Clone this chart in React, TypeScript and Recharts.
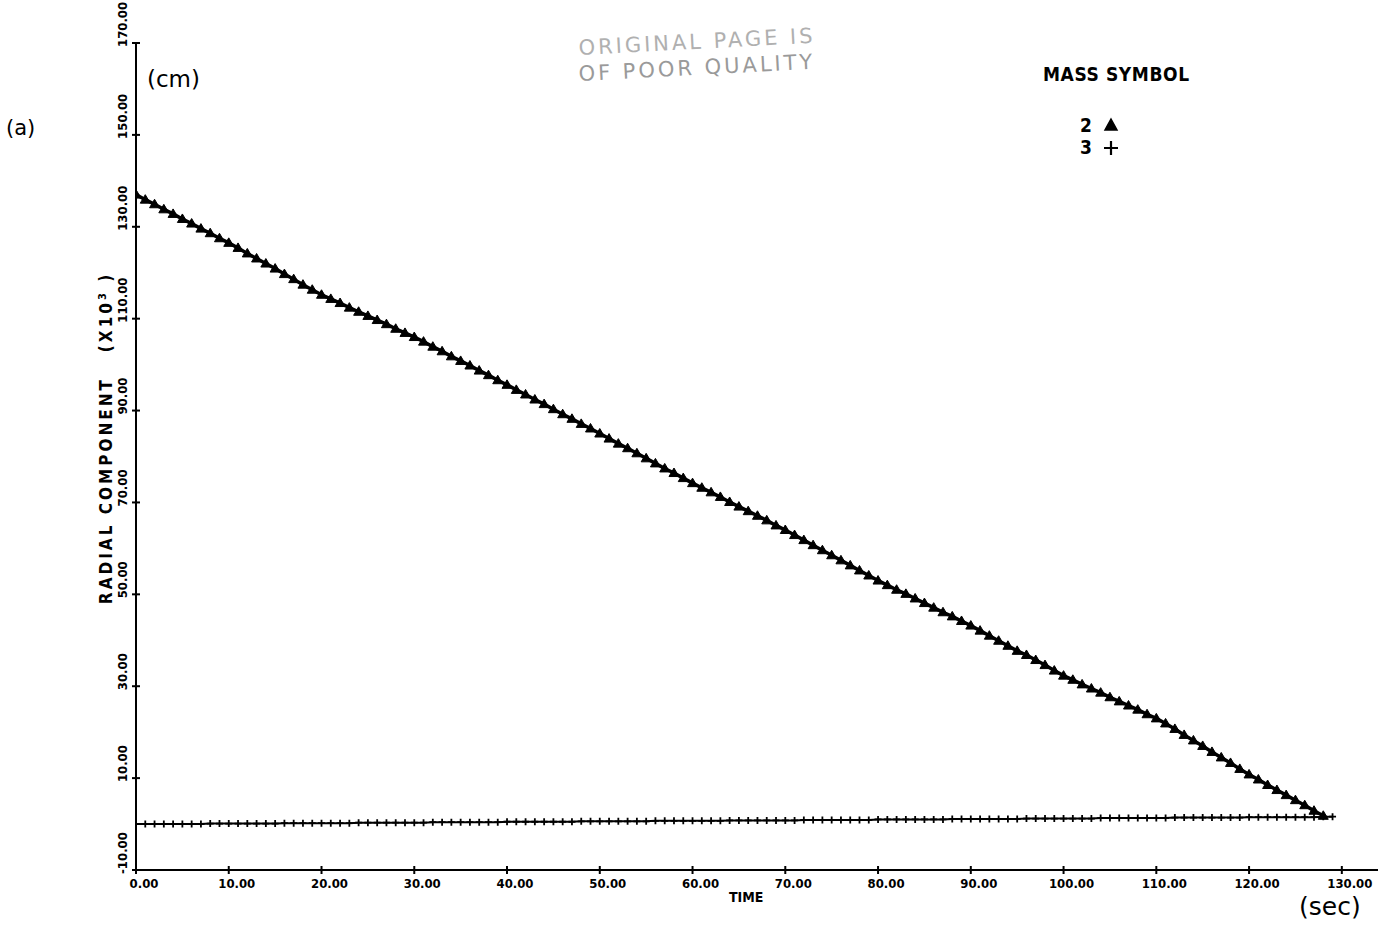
import React from 'react';
import { LineChart, Line, XAxis, YAxis } from 'recharts';

// time axis (sec) and tick values
const timeSec = [
  0, 1, 2, 3, 4, 5, 6, 7, 8, 9,
  10, 11, 12, 13, 14, 15, 16, 17, 18, 19,
  20, 21, 22, 23, 24, 25, 26, 27, 28, 29,
  30, 31, 32, 33, 34, 35, 36, 37, 38, 39,
  40, 41, 42, 43, 44, 45, 46, 47, 48, 49,
  50, 51, 52, 53, 54, 55, 56, 57, 58, 59,
  60, 61, 62, 63, 64, 65, 66, 67, 68, 69,
  70, 71, 72, 73, 74, 75, 76, 77, 78, 79,
  80, 81, 82, 83, 84, 85, 86, 87, 88, 89,
  90, 91, 92, 93, 94, 95, 96, 97, 98, 99,
  100, 101, 102, 103, 104, 105, 106, 107, 108, 109,
  110, 111, 112, 113, 114, 115, 116, 117, 118, 119,
  120, 121, 122, 123, 124, 125, 126, 127, 128, 129,
];
const timeTicks = [0, 10, 20, 30, 40, 50, 60, 70, 80, 90, 100, 110, 120, 130];
const radialTicks = [-10, 10, 30, 50, 70, 90, 110, 130, 150, 170];

// radial component (x10^3 cm), mass 2 (triangles)
const mass2Radial = [
  137.0, 135.9, 134.9, 133.8, 132.8, 131.7, 130.7, 129.6, 128.6, 127.5,
  126.5, 125.4, 124.2, 123.1, 122.0, 120.9, 119.7, 118.6, 117.4, 116.3,
  115.2, 114.3, 113.4, 112.4, 111.5, 110.6, 109.7, 108.8, 107.8, 106.9,
  106.0, 105.0, 103.9, 102.9, 101.8, 100.8, 99.8, 98.7, 97.7, 96.6,
  95.6, 94.5, 93.5, 92.4, 91.4, 90.3, 89.2, 88.2, 87.1, 86.1,
  85.0, 83.9, 82.8, 81.8, 80.7, 79.6, 78.5, 77.4, 76.4, 75.3,
  74.2, 73.2, 72.2, 71.2, 70.1, 69.1, 68.1, 67.1, 66.1, 65.0,
  64.0, 62.9, 61.8, 60.7, 59.6, 58.5, 57.4, 56.3, 55.2, 54.1,
  53.0, 52.0, 51.0, 50.1, 49.1, 48.1, 47.1, 46.1, 45.2, 44.2,
  43.2, 42.1, 41.0, 39.9, 38.8, 37.7, 36.8, 35.7, 34.6, 33.4,
  32.3, 31.4, 30.4, 29.5, 28.6, 27.6, 26.7, 25.8, 24.9, 23.9,
  23.0, 21.9, 20.7, 19.4, 18.2, 17.0, 15.7, 14.5, 13.3, 12.0,
  10.8, 9.7, 8.5, 7.4, 6.3, 5.2, 4.1, 2.9, 1.8,
];

// radial component (x10^3 cm), mass 3 (plus signs)
const mass3Radial = [
  0.0, 0.0, 0.0, 0.0, 0.0, 0.0, 0.0, 0.0, 0.1, 0.1,
  0.1, 0.1, 0.1, 0.1, 0.1, 0.1, 0.2, 0.2, 0.2, 0.2,
  0.2, 0.2, 0.2, 0.2, 0.3, 0.3, 0.3, 0.3, 0.3, 0.3,
  0.3, 0.3, 0.4, 0.4, 0.4, 0.4, 0.4, 0.4, 0.4, 0.4,
  0.5, 0.5, 0.5, 0.5, 0.5, 0.5, 0.5, 0.5, 0.6, 0.6,
  0.6, 0.6, 0.6, 0.6, 0.6, 0.6, 0.7, 0.7, 0.7, 0.7,
  0.7, 0.7, 0.7, 0.7, 0.8, 0.8, 0.8, 0.8, 0.8, 0.8,
  0.8, 0.8, 0.9, 0.9, 0.9, 0.9, 0.9, 0.9, 0.9, 0.9,
  1.0, 1.0, 1.0, 1.0, 1.0, 1.0, 1.0, 1.0, 1.1, 1.1,
  1.1, 1.1, 1.1, 1.1, 1.1, 1.1, 1.2, 1.2, 1.2, 1.2,
  1.2, 1.2, 1.2, 1.2, 1.3, 1.3, 1.3, 1.3, 1.3, 1.3,
  1.3, 1.3, 1.4, 1.4, 1.4, 1.4, 1.4, 1.4, 1.4, 1.4,
  1.5, 1.5, 1.5, 1.5, 1.5, 1.5, 1.5, 1.5, 1.6, 1.6,
];

const rows = timeSec.map((t, i) => ({
  t,
  mass2: i < mass2Radial.length ? mass2Radial[i] : null,
  mass3: mass3Radial[i],
}));

const plotFont = "'DejaVu Sans Condensed', 'DejaVu Sans', sans-serif";
const typedFont = "'DejaVu Sans', sans-serif";

const YTick = (props: any) => {
  const { x, y, payload } = props;
  const tx = x - 9;
  const ty = y + 4;
  return (
    <g>
      <line x1={x - 4} x2={x + 4} y1={y} y2={y} stroke="#000" strokeWidth={2} />
      <text
        x={tx}
        y={ty}
        transform={`rotate(-90 ${tx} ${ty})`}
        textAnchor="start"
        fontSize={13}
        fontWeight="bold"
        fontFamily={plotFont}
        fill="#000"
      >
        {payload.value.toFixed(2)}
      </text>
    </g>
  );
};

const XTick = (props: any) => {
  const { x, y, payload } = props;
  return (
    <g>
      <line x1={x} x2={x} y1={y - 4} y2={y + 4} stroke="#000" strokeWidth={2} />
      <text
        x={x + 8}
        y={y + 18}
        textAnchor="middle"
        fontSize={13}
        fontWeight="bold"
        fontFamily={plotFont}
        fill="#000"
      >
        {payload.value.toFixed(2)}
      </text>
    </g>
  );
};

const TriangleDot = (props: any) => {
  const { cx, cy, index } = props;
  if (cx == null || cy == null) return <g key={`m2-${index}`} />;
  return (
    <path
      key={`m2-${index}`}
      d={`M${cx},${cy - 5} L${cx + 5},${cy + 3.5} L${cx - 5},${cy + 3.5} Z`}
      fill="#000"
      stroke="#000"
      strokeWidth={1}
    />
  );
};

const PlusDot = (props: any) => {
  const { cx, cy, index } = props;
  if (cx == null || cy == null) return <g key={`m3-${index}`} />;
  return (
    <path
      key={`m3-${index}`}
      d={`M${cx - 3.5},${cy} L${cx + 3.5},${cy} M${cx},${cy - 3.5} L${cx},${cy + 3.5}`}
      stroke="#000"
      strokeWidth={1.8}
      fill="none"
    />
  );
};

const abs = (left: number, top: number, extra: React.CSSProperties = {}): React.CSSProperties => ({
  position: 'absolute',
  left,
  top,
  lineHeight: 1,
  whiteSpace: 'nowrap',
  color: '#000',
  ...extra,
});

export default function App() {
  return (
    <div style={{ position: 'absolute', left: 0, top: 0, width: 1396, height: 928, background: '#fff' }}>
      <LineChart
        width={1396}
        height={928}
        data={rows}
        margin={{ top: 43, right: 18, bottom: 28, left: 96 }}
      >
        <XAxis
          type="number"
          dataKey="t"
          domain={[0, 133.9]}
          ticks={timeTicks}
          allowDataOverflow
          height={30}
          tickSize={0}
          tickMargin={0}
          tickLine={false}
          axisLine={{ stroke: '#000', strokeWidth: 2 }}
          tick={<XTick />}
        />
        <YAxis
          type="number"
          domain={[-10, 170]}
          ticks={radialTicks}
          allowDataOverflow
          width={40}
          tickSize={0}
          tickMargin={0}
          tickLine={false}
          axisLine={{ stroke: '#000', strokeWidth: 2 }}
          tick={<YTick />}
        />
        <Line
          type="linear"
          dataKey="mass3"
          stroke="#000"
          strokeWidth={2}
          dot={PlusDot}
          activeDot={false}
          isAnimationActive={false}
        />
        <Line
          type="linear"
          dataKey="mass2"
          stroke="#000"
          strokeWidth={3.5}
          dot={TriangleDot}
          activeDot={false}
          connectNulls={false}
          isAnimationActive={false}
        />
      </LineChart>

      {/* axis titles */}
      <div
        style={abs(106, 438, {
          transform: 'translate(-50%, -50%) rotate(-90deg)',
          fontFamily: plotFont,
          fontWeight: 'bold',
          fontSize: 17,
          letterSpacing: 3,
        })}
      >
        RADIAL COMPONENT &nbsp;&nbsp;(X10<sup style={{ fontSize: 11 }}>3</sup>&nbsp;)
      </div>
      <div style={abs(729, 890, { fontFamily: plotFont, fontWeight: 'bold', fontSize: 14 })}>TIME</div>

      {/* units and panel tag */}
      <div style={abs(6, 118, { fontFamily: typedFont, fontSize: 21 })}>(a)</div>
      <div style={abs(147, 68, { fontFamily: typedFont, fontSize: 23 })}>(cm)</div>
      <div style={abs(1299, 894, { fontFamily: typedFont, fontSize: 25 })}>(sec)</div>

      {/* faded stamp */}
      <div
        style={abs(578, 38, {
          fontFamily: typedFont,
          fontSize: 21,
          letterSpacing: 3,
          color: '#b0b0b0',
          transform: 'rotate(-3deg)',
          transformOrigin: 'left top',
        })}
      >
        ORIGINAL PAGE IS
      </div>
      <div
        style={abs(578, 64, {
          fontFamily: typedFont,
          fontSize: 21,
          letterSpacing: 3,
          color: '#9a9a9a',
          transform: 'rotate(-3deg)',
          transformOrigin: 'left top',
        })}
      >
        OF POOR QUALITY
      </div>

      {/* symbol key */}
      <div style={abs(1043, 65, { fontFamily: plotFont, fontWeight: 'bold', fontSize: 19, letterSpacing: 0.6 })}>
        MASS SYMBOL
      </div>
      <div style={abs(1080, 116, { fontFamily: plotFont, fontWeight: 'bold', fontSize: 19 })}>2</div>
      <div style={abs(1080, 138, { fontFamily: plotFont, fontWeight: 'bold', fontSize: 19 })}>3</div>
      <svg style={{ position: 'absolute', left: 1100, top: 112, overflow: 'visible' }} width={24} height={50}>
        <path d="M11,7 L17,18 L5,18 Z" fill="#000" stroke="#000" strokeWidth={1.5} />
        <path d="M11,29 L11,43 M4,36 L18,36" stroke="#000" strokeWidth={2.2} fill="none" />
      </svg>
    </div>
  );
}
